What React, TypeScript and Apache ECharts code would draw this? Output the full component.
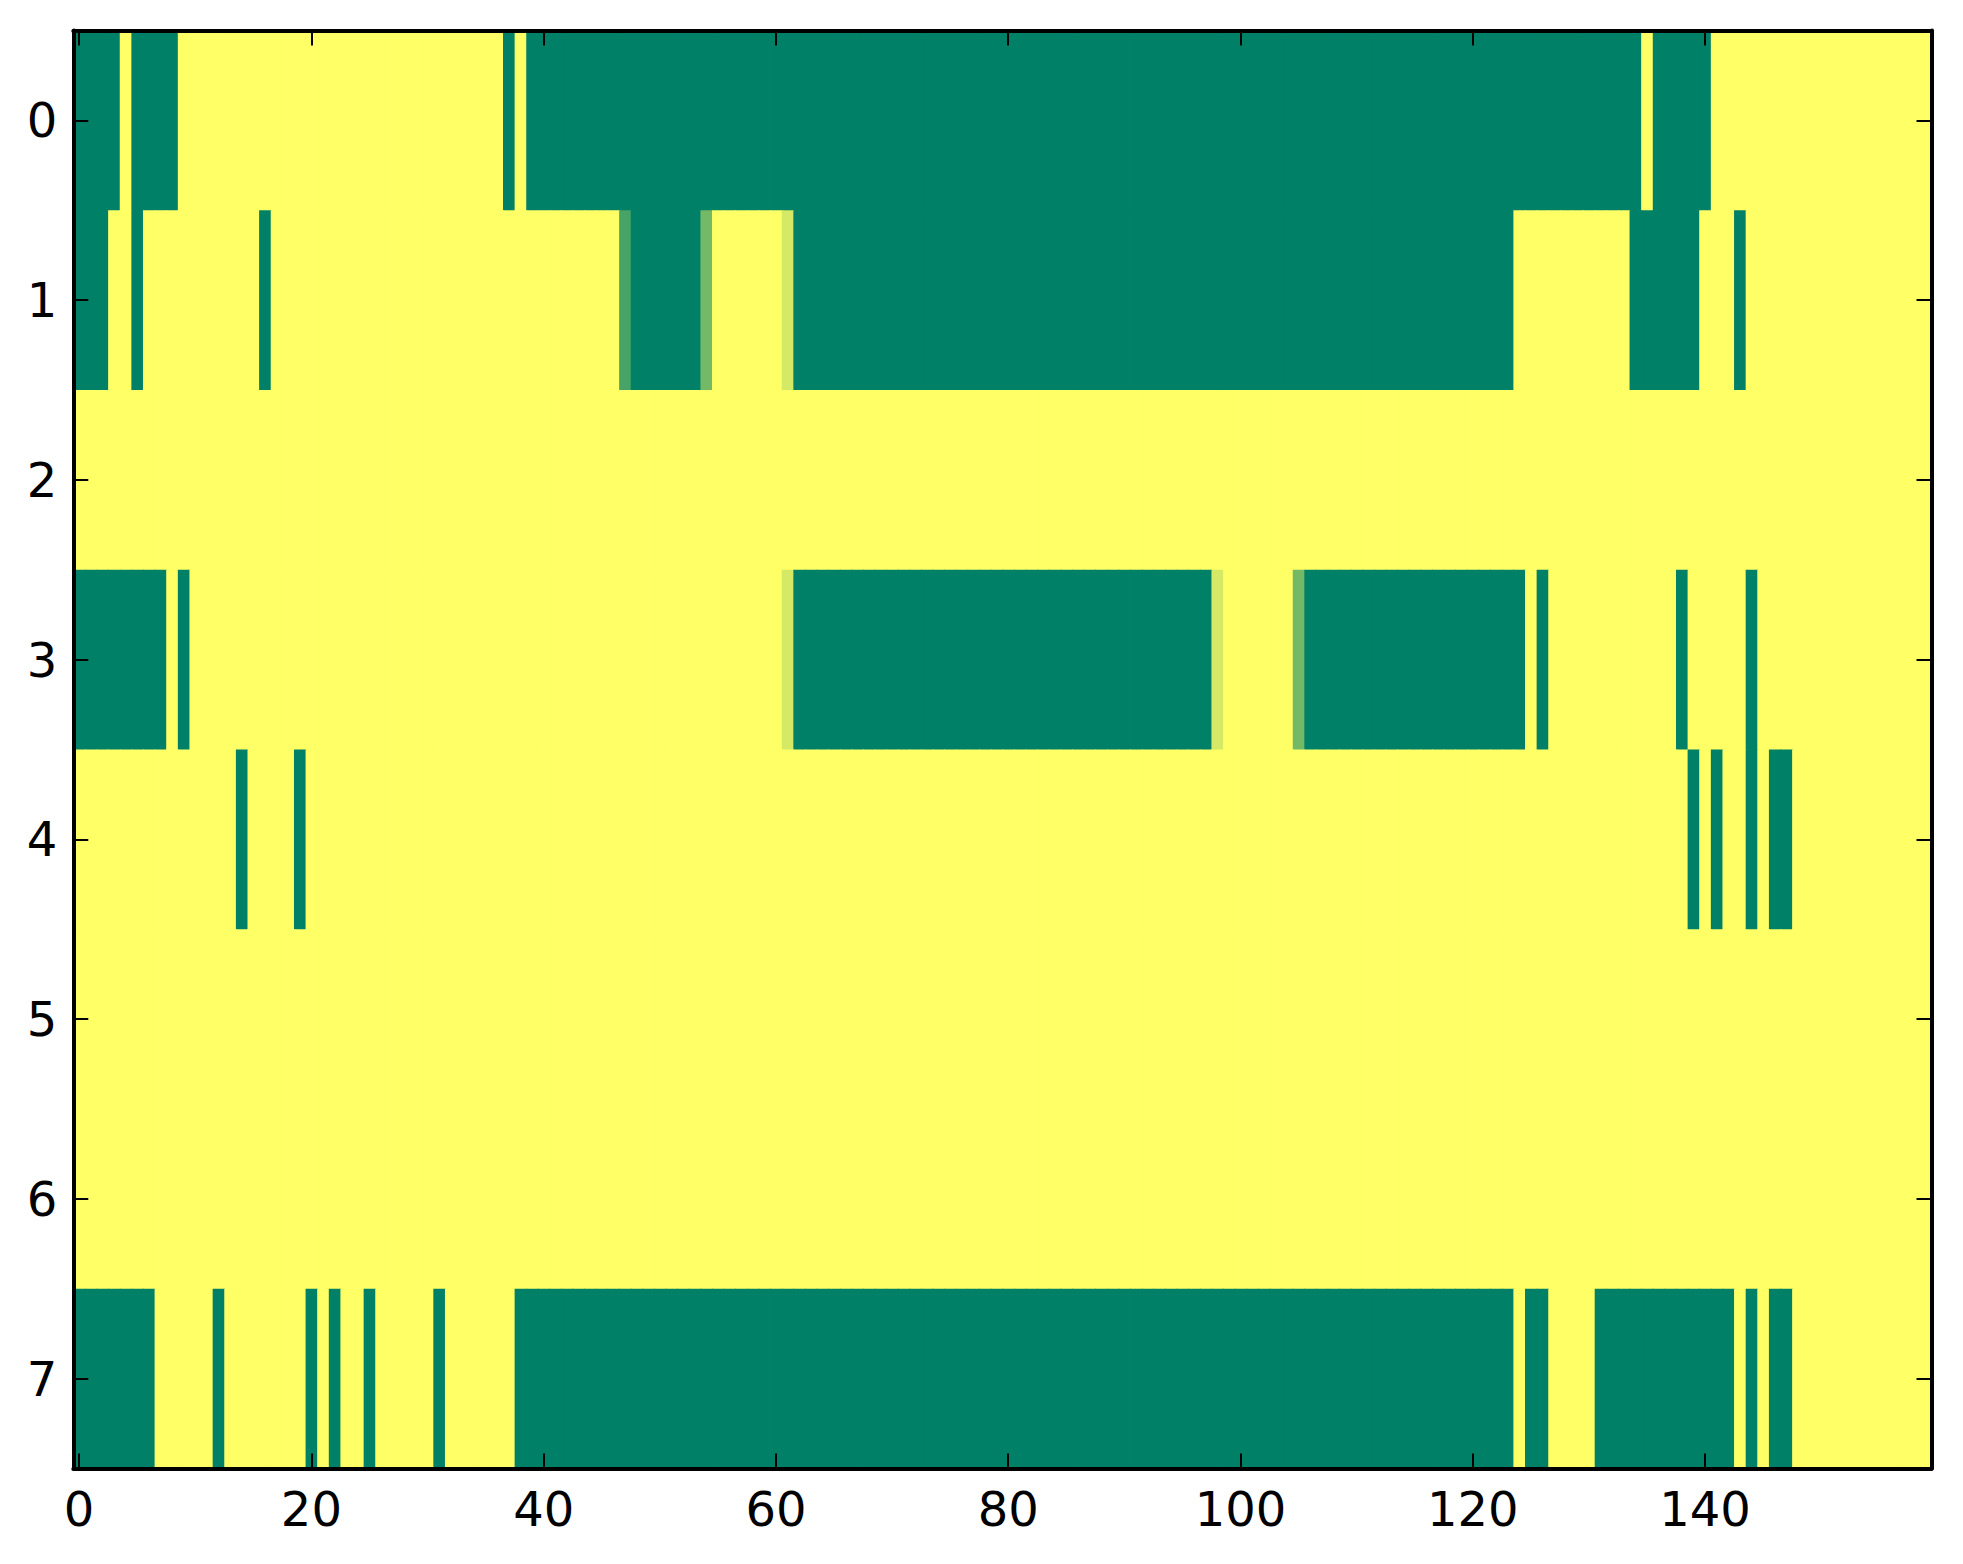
import React, { useEffect, useRef } from 'react';
import * as echarts from 'echarts';

// colour levels (summer colormap, 0 = green, 1 = yellow)
const G = 0;
const Y = 1;
const A = 0.28;
const B = 0.45;
const C = 0.83;

// run-length rows: [value, number of cells]
const row0Runs = [[G, 4], [Y, 1], [G, 4], [Y, 28], [G, 1], [Y, 1], [G, 96], [Y, 1], [G, 5], [Y, 19]];
const row1Runs = [[G, 3], [Y, 2], [G, 1], [Y, 10], [G, 1], [Y, 30], [A, 1], [G, 6], [B, 1], [Y, 6], [C, 1], [G, 62], [Y, 10], [G, 6], [Y, 3], [G, 1], [Y, 16]];
const row2Runs = [[Y, 160]];
const row3Runs = [[G, 8], [Y, 1], [G, 1], [Y, 51], [C, 1], [G, 36], [C, 1], [Y, 6], [B, 1], [G, 19], [Y, 1], [G, 1], [Y, 11], [G, 1], [Y, 5], [G, 1], [Y, 15]];
const row4Runs = [[Y, 14], [G, 1], [Y, 4], [G, 1], [Y, 119], [G, 1], [Y, 1], [G, 1], [Y, 2], [G, 1], [Y, 1], [G, 2], [Y, 12]];
const row5Runs = [[Y, 160]];
const row6Runs = [[Y, 160]];
const row7Runs = [[G, 7], [Y, 5], [G, 1], [Y, 7], [G, 1], [Y, 1], [G, 1], [Y, 2], [G, 1], [Y, 5], [G, 1], [Y, 6], [G, 86], [Y, 1], [G, 2], [Y, 4], [G, 12], [Y, 1], [G, 1], [Y, 1], [G, 2], [Y, 12]];

const rowRuns = [row0Runs, row1Runs, row2Runs, row3Runs, row4Runs, row5Runs, row6Runs, row7Runs];

const nCols = 160;
const xCategories = Array.from({ length: nCols }, (_, i) => String(i));
const yCategories = ['0', '1', '2', '3', '4', '5', '6', '7'];
const xTickLabels = ['0', '20', '40', '60', '80', '100', '120', '140'];

const colorLow = '#008066';
const colorHigh = '#ffff66';

function buildData() {
  const data: number[][] = [];
  rowRuns.forEach((runs, r) => {
    let c = 0;
    runs.forEach(([v, n]) => {
      for (let k = 0; k < n; k++) {
        data.push([c, r, v]);
        c++;
      }
    });
  });
  return data;
}

export default function App() {
  const ref = useRef<HTMLDivElement>(null);
  useEffect(() => {
    if (!ref.current) return;
    const chart = echarts.init(ref.current, null, { renderer: 'svg' });
    const font = 'DejaVu Sans';
    const showX = (_i: number, v: string) => xTickLabels.includes(v);
    const lineStyle = { color: '#000', width: 4 };
    const tickStyle = { color: '#000', width: 2 };
    chart.setOption({
      animation: false,
      backgroundColor: '#ffffff',
      grid: {
        left: 73.3,
        right: 31.5,
        top: 30.5,
        bottom: 95.5,
        containLabel: false,
        outerBoundsMode: 'none',
      },
      xAxis: [
        {
          type: 'category',
          data: xCategories,
          position: 'bottom',
          z: 10,
          axisLine: { show: true, lineStyle },
          axisTick: { show: true, inside: true, length: 15, alignWithLabel: true, interval: showX, lineStyle: tickStyle },
          axisLabel: { show: true, interval: showX, color: '#000', fontFamily: font, fontSize: 48, margin: 16 },
          splitLine: { show: false },
        },
        {
          type: 'category',
          data: xCategories,
          position: 'top',
          z: 10,
          axisLine: { show: true, lineStyle },
          axisTick: { show: true, inside: true, length: 15, alignWithLabel: true, interval: showX, lineStyle: tickStyle },
          axisLabel: { show: false },
          splitLine: { show: false },
        },
      ],
      yAxis: [
        {
          type: 'category',
          data: yCategories,
          inverse: true,
          position: 'left',
          z: 10,
          axisLine: { show: true, lineStyle },
          axisTick: { show: true, inside: true, length: 15, alignWithLabel: true, lineStyle: tickStyle },
          axisLabel: { show: true, color: '#000', fontFamily: font, fontSize: 48, margin: 16 },
          splitLine: { show: false },
        },
        {
          type: 'category',
          data: yCategories,
          inverse: true,
          position: 'right',
          z: 10,
          axisLine: { show: true, lineStyle },
          axisTick: { show: true, inside: true, length: 15, alignWithLabel: true, lineStyle: tickStyle },
          axisLabel: { show: false },
          splitLine: { show: false },
        },
      ],
      visualMap: {
        show: false,
        type: 'continuous',
        min: 0,
        max: 1,
        dimension: 2,
        seriesIndex: 0,
        inRange: { color: [colorLow, colorHigh] },
      },
      series: [
        {
          type: 'custom',
          xAxisIndex: 0,
          yAxisIndex: 0,
          z: 2,
          encode: { x: 0, y: 1 },
          data: buildData(),
          silent: true,
          renderItem: (params: any, api: any) => {
            const center = api.coord([api.value(0), api.value(1)]);
            const size = api.size([1, 1]);
            const w = size[0];
            const h = size[1];
            return {
              type: 'rect',
              shape: { x: center[0] - w / 2, y: center[1] - h / 2, width: w + 0.8, height: h + 0.8 },
              style: { fill: api.visual('color'), stroke: null, lineWidth: 0 },
            };
          },
        },
      ],
    });
    return () => chart.dispose();
  }, []);
  return (
    <div
      ref={ref}
      style={{ position: 'absolute', left: 0, top: 0, width: 1963, height: 1564, background: '#fff' }}
    />
  );
}
